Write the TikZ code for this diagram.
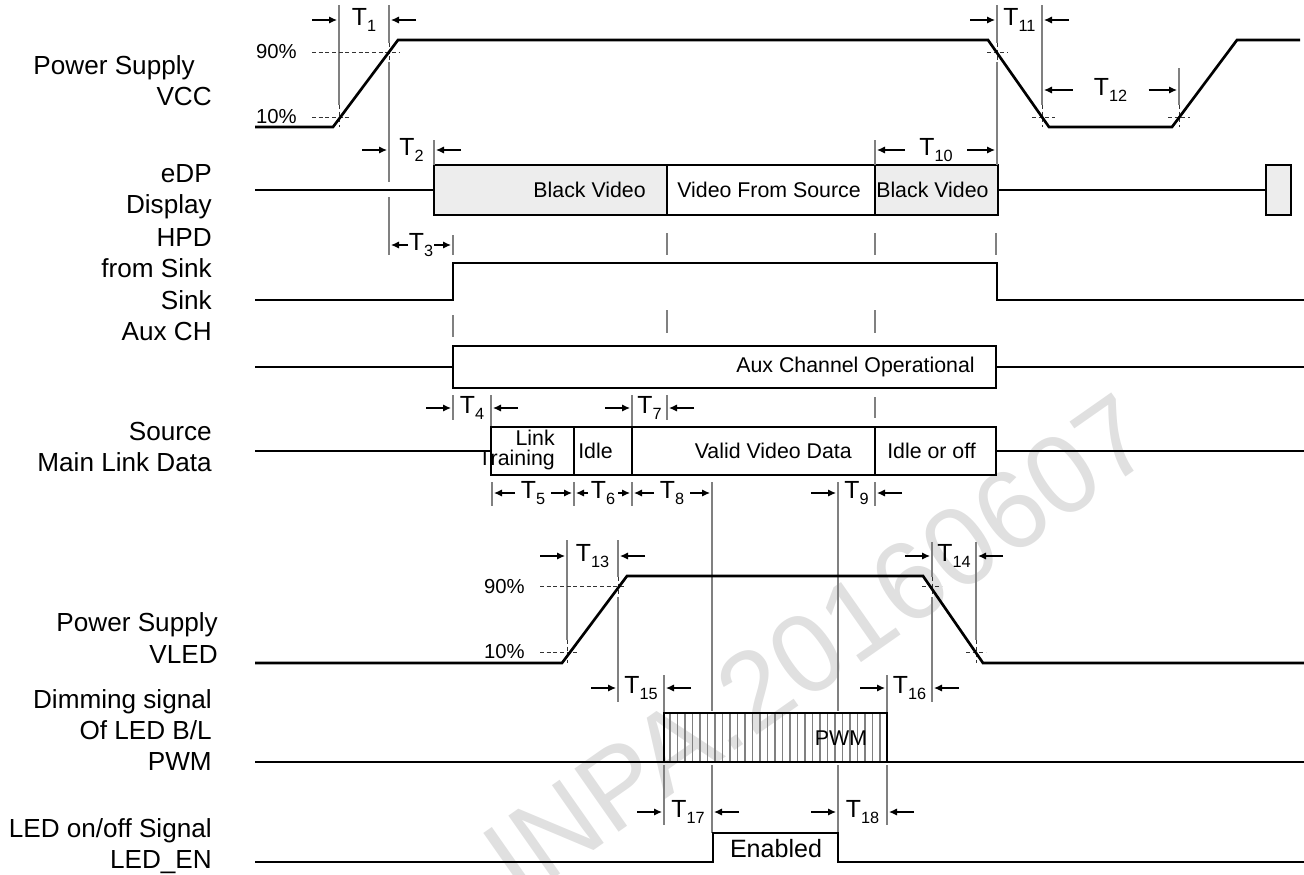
\documentclass[tikz,border=0pt]{standalone}
\usepackage{fontspec}
\setmainfont{Liberation Sans}
\usetikzlibrary{arrows.meta}
\newcommand\TT[1]{T\raisebox{-4.5pt}{\fontsize{12.2}{13}\selectfont #1}}
\newcommand\DimIn[5]{%
  \draw[dim] ({#2-27},#4) -- ({#2-2},#4);
  \draw[dim] ({#3+27},#4) -- ({#3+2},#4);
  \node[tl, anchor=base] (#1) at ({(#2+#3)/2},{#4+5}) {\TT{#5}};}
\newcommand\DimOut[6]{%
  \draw[dim] ({(#2+#3)/2-#6},#4) -- ({#2+2},#4);
  \draw[dim] ({(#2+#3)/2+#6},#4) -- ({#3-2},#4);
  \node[tl, anchor=base] (#1) at ({(#2+#3)/2},{#4+5}) {\TT{#5}};}
\begin{document}
\begin{tikzpicture}[x=0.75pt,y=-0.75pt,
  sig/.style={line width=2pt, line join=miter},
  boxx/.style={line width=2pt},
  shadebox/.style={line width=2pt, fill=black!7},
  guide/.style={draw=black!50, line width=1pt},
  lvl/.style={draw=black!80, line width=0.6pt, dash pattern=on 3pt off 2pt},
  dim/.style={-{Latex[length=6pt,width=5.5pt]}, line width=1pt},
  stripe/.style={draw=black!50, line width=1.3pt},
  lab/.style={align=right, anchor=east, inner sep=0, font=\fontsize{19.6}{23.3}\selectfont},
  txt/.style={inner sep=0, font=\fontsize{16}{15}\selectfont},
  pct/.style={inner sep=0, anchor=east, font=\fontsize{15.2}{16}\selectfont},
  tl/.style={inner sep=0, font=\fontsize{18.6}{20}\selectfont},
  wmark/.style={inner sep=0, text=black!12, rotate=35, font=\fontsize{84}{84}\selectfont},
]
\useasboundingbox (0,0) rectangle (1304,875);

% watermark
\node[wmark] (wm) at (818,646) {INPA.20160607};

% signal names
\node[lab] (lvcc) at (212,81) {Power Supply\hspace*{12.75pt}\\VCC};
\node[lab] (ledp) at (212,192) {eDP\\Display};
\node[lab] (lhpd) at (212,253) {HPD\\from Sink};
\node[lab] (laux) at (212,316) {Sink\\Aux CH};
\node[lab] (lsrc) at (212,447) {Source\\Main Link Data};
\node[lab] (lvled) at (218,638) {Power Supply\\VLED};
\node[lab] (lpwm) at (212,730) {Dimming signal\\Of LED B/L\\PWM};
\node[lab] (len) at (212,846) {LED on/off Signal\\LED\_EN};

% shaded boxes (eDP)
\draw[shadebox] (434,165) rectangle (667,215);
\draw[boxx] (667,165) rectangle (875,215);
\draw[shadebox] (875,165) rectangle (998,215);
\draw[shadebox] (1266,165) rectangle (1291,215);

% PWM stripes
\foreach \i in {0,...,28} \draw[stripe] ({670+7.5*\i},713) -- ({670+7.5*\i},762);

% guide lines
\draw[guide] (339,5) -- (339,105);  \draw[lvl] (339,105) -- (339,127);
\draw[guide] (389,5) -- (389,43);   \draw[lvl] (389,43) -- (389,62);
\draw[guide] (389,62) -- (389,182); \draw[guide] (389,197) -- (389,255);
\draw[guide] (434,140) -- (434,165);
\draw[guide] (453,235) -- (453,255);
\draw[guide] (453,315) -- (453,337);
\draw[guide] (453,395) -- (453,420);
\draw[guide] (491,395) -- (491,427);
\draw[guide] (632,395) -- (632,427);
\draw[guide] (667,395) -- (667,420);
\draw[guide] (667,233) -- (667,255);
\draw[guide] (667,310) -- (667,333);
\draw[guide] (875,140) -- (875,165);
\draw[guide] (875,233) -- (875,255);
\draw[guide] (875,310) -- (875,333);
\draw[guide] (875,397) -- (875,418);
\draw[guide] (997,5) -- (997,43);   \draw[lvl] (997,43) -- (997,62);
\draw[guide] (997,62) -- (997,165);
\draw[guide] (996,233) -- (996,255);
\draw[guide] (1042,5) -- (1042,105); \draw[lvl] (1042,105) -- (1042,127);
\draw[guide] (1179,68) -- (1179,105); \draw[lvl] (1179,105) -- (1179,127);
\draw[guide] (492,482) -- (492,506);
\draw[guide] (574,482) -- (574,506);
\draw[guide] (632,482) -- (632,506);
\draw[guide] (875,482) -- (875,506);
\draw[guide] (712,482) -- (712,711); \draw[guide] (712,765) -- (712,833);
\draw[guide] (838,482) -- (838,711); \draw[guide] (838,765) -- (838,833);
\draw[guide] (567,540) -- (567,640); \draw[lvl] (567,640) -- (567,663);
\draw[guide] (618,540) -- (618,577); \draw[lvl] (618,577) -- (618,597);
\draw[guide] (618,597) -- (618,702);
\draw[guide] (932,542) -- (932,577); \draw[lvl] (932,577) -- (932,597);
\draw[guide] (932,597) -- (932,702);
\draw[guide] (976,542) -- (976,640); \draw[lvl] (976,640) -- (976,663);
\draw[guide] (664,675) -- (664,713); \draw[guide] (664,765) -- (664,825);
\draw[guide] (887,675) -- (887,713); \draw[guide] (887,765) -- (887,825);

% level lines
\draw[lvl] (312,52) -- (400,52);
\draw[lvl] (312,117) -- (350,117);
\draw[lvl] (987,52) -- (1008,52);
\draw[lvl] (1032,117) -- (1055,117);
\draw[lvl] (1168,117) -- (1190,117);
\draw[lvl] (540,586) -- (626,586);
\draw[lvl] (540,652) -- (578,652);
\draw[lvl] (922,586) -- (942,586);
\draw[lvl] (966,652) -- (986,652);
\node[pct] (p90a) at (297,52) {90\%};
\node[pct] (p10a) at (297,117) {10\%};
\node[pct] (p90b) at (525,587) {90\%};
\node[pct] (p10b) at (525,652) {10\%};

% waveforms
\draw[sig] (255,127) -- (333,127) -- (398,40) -- (988,40) -- (1049,127) -- (1172,127) -- (1237,40) -- (1300,40);
\draw[sig] (255,190) -- (434,190);
\draw[sig] (998,190) -- (1266,190);
\draw[sig] (255,300) -- (453,300) -- (453,263) -- (997,263) -- (997,300) -- (1304,300);
\draw[sig] (255,367) -- (453,367);
\draw[boxx] (453,346) rectangle (996,388);
\draw[sig] (996,367) -- (1304,367);
\draw[sig] (255,451) -- (491,451);
\draw[boxx] (491,427) rectangle (996,475);
\draw[boxx] (574,427) -- (574,475);
\draw[boxx] (632,427) -- (632,475);
\draw[boxx] (875,427) -- (875,475);
\draw[sig] (996,451) -- (1304,451);
\draw[sig] (255,663) -- (562,663) -- (627,576) -- (923,576) -- (983,663) -- (1304,663);
\draw[sig] (255,762) -- (664,762);
\draw[boxx] (664,713) rectangle (887,762);
\draw[sig] (887,762) -- (1304,762);
\draw[sig] (255,862) -- (713,862) -- (713,833) -- (838,833) -- (838,862) -- (1304,862);

% texts in waveforms
\node[txt, anchor=east] (bv1) at (646,190) {Black Video};
\node[txt] (vfs) at (769,190) {Video From Source};
\node[txt, anchor=west] (bv2) at (876,190) {Black Video};
\node[txt, anchor=east] (aux) at (975,367) {Aux Channel Operational};
\node[txt, anchor=east, align=right] (lt) at (555,450) {Link\\Training};
\node[txt, anchor=west] (idle) at (578,451) {Idle};
\node[txt, anchor=east] (vvd) at (852,451) {Valid Video Data};
\node[txt, anchor=west] (ioo) at (887,451) {Idle or off};
\node[txt] (pwm) at (841,738) {PWM};
\node[inner sep=0, font=\fontsize{18.8}{20}\selectfont] (ena) at (776,849) {Enabled};

% timing dimensions
\DimIn{t1}{339}{389}{20}{1}
\DimIn{t2}{389}{434}{150}{2}
\DimOut{t3}{389}{453}{245}{3}{13}
\DimIn{t4}{453}{491}{408}{4}
\DimOut{t5}{492}{574}{493}{5}{18}
\DimOut{t6}{574}{632}{493}{6}{15}
\DimIn{t7}{632}{667}{408}{7}
\DimOut{t8}{632}{712}{493}{8}{18}
\DimIn{t9}{838}{875}{493}{9}
\DimOut{t10}{875}{997}{150}{10}{31}
\DimIn{t11}{997}{1042}{20}{11}
\DimOut{t12}{1042}{1179}{90}{12}{38}
\DimIn{t13}{567}{618}{556}{13}
\DimIn{t14}{932}{976}{556}{14}
\DimIn{t15}{618}{664}{688}{15}
\DimIn{t16}{887}{932}{688}{16}
\DimIn{t17}{664}{712}{812}{17}
\DimIn{t18}{838}{887}{812}{18}
\end{tikzpicture}
\end{document}
